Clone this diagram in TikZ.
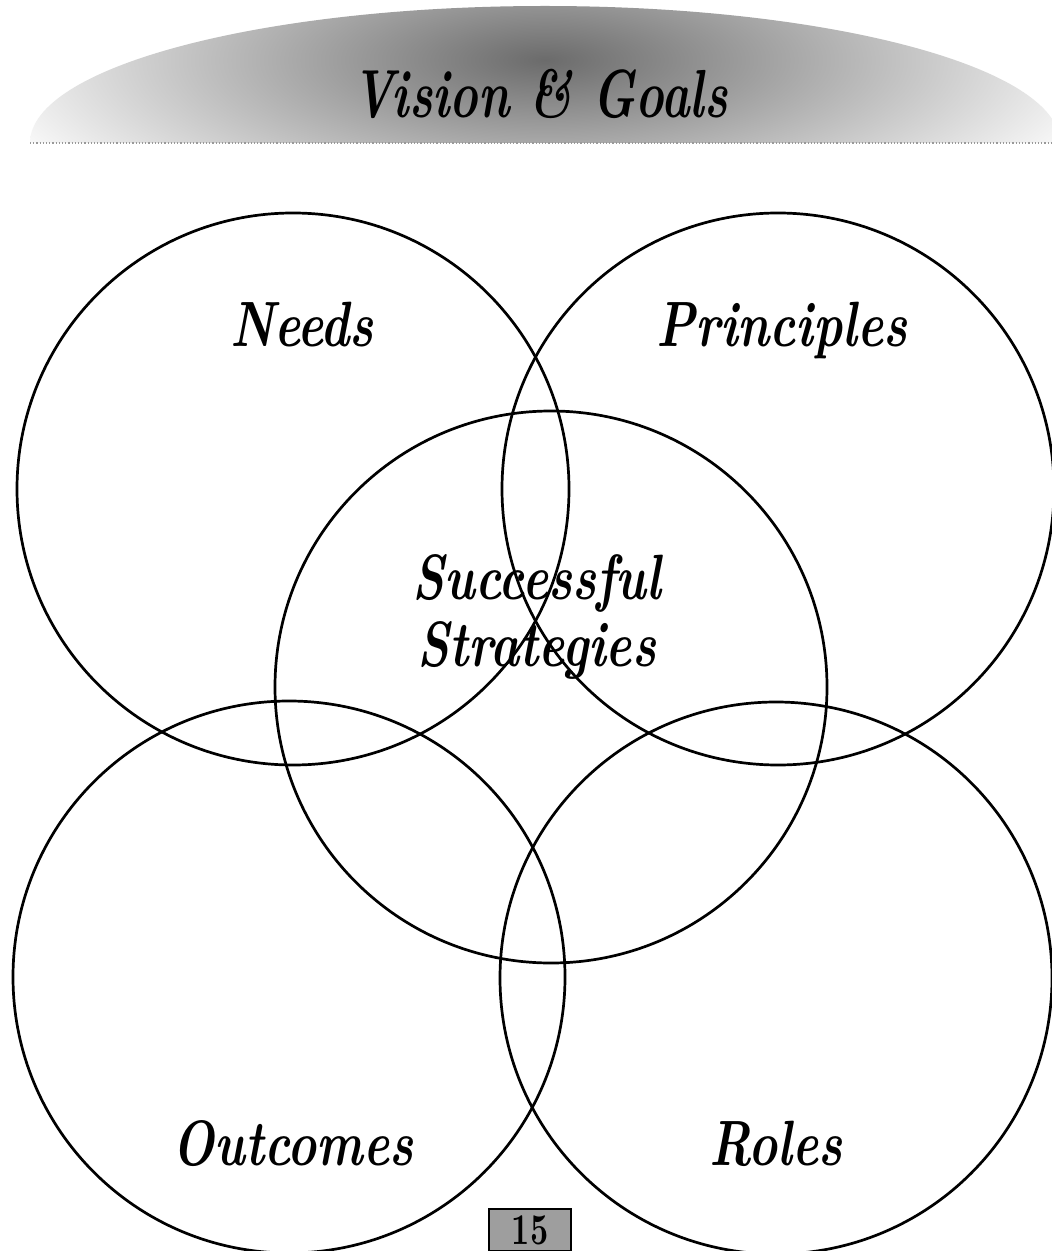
\documentclass[tikz,border=0pt]{standalone}
\usepackage{fontspec}
\setmainfont{Latin Modern Roman}
\newfontfamily\vennfont{lmroman10-bolditalic.otf}[FakeStretch=0.77]
\newfontfamily\headfont{lmroman10-bolditalic.otf}[FakeStretch=0.71]
\newfontfamily\numfont{lmroman10-bold.otf}[FakeStretch=0.72]
\usetikzlibrary{positioning}

\begin{document}
\begin{tikzpicture}[
    x = 0.5pt, y = -0.5pt,
    ring/.style    = {draw, circle, line width=1.35pt, minimum size=276pt,
                      inner sep=0pt},
    lbl/.style     = {font=\vennfont\fontsize{32}{33.5}\selectfont,
                      inner sep=0pt, anchor=base, align=center},
    title/.style   = {font=\headfont\fontsize{34}{36}\selectfont,
                      inner sep=0pt, anchor=base},
    pagebox/.style = {draw, line width=1pt, fill=black!38, minimum width=41pt,
                      minimum height=21pt, inner sep=0pt,
                      font=\numfont\fontsize{22}{22}\selectfont},
]

% --- page frame ---
\useasboundingbox (0,0) rectangle (1052,1251);
\clip (0,0) rectangle (1052,1251);
\fill[white] (0,0) rectangle (1052,1251);

% --- banner across the top ---
\begin{scope}
  \clip (30,143) arc[start angle=180, end angle=360, x radius=515, y radius=137] -- cycle;
  \shade[inner color=black!58, outer color=white] (545,60) ellipse[x radius=600, y radius=200];
\end{scope}
\draw[black!40, densely dotted, line width=0.6pt] (30,143) -- (1060,143);
\node[title] (head) at (540,118) {Vision \& Goals};

% --- the five circles ---
\node[ring] (needs) at (293,489) {};
\node[ring] (princ) at (778,489) {};
\node[ring] (strat) at (551,687) {};
\node[ring] (outc)  at (289,977) {};
\node[ring] (roles) at (776,978) {};

% --- circle labels ---
\node[lbl] (needsl) at (302,346)  {Needs};
\node[lbl] (princl) at (782,346)  {Principles};
\node[lbl] (stratl) at (537,666)  {Successful\\Strategies};
\node[lbl] (outcl)  at (293,1165) {Outcomes};
\node[lbl] (rolesl) at (776,1165) {Roles};

% --- page number ---
\node[pagebox] (pg) at (530,1230) {15};

\end{tikzpicture}
\end{document}
